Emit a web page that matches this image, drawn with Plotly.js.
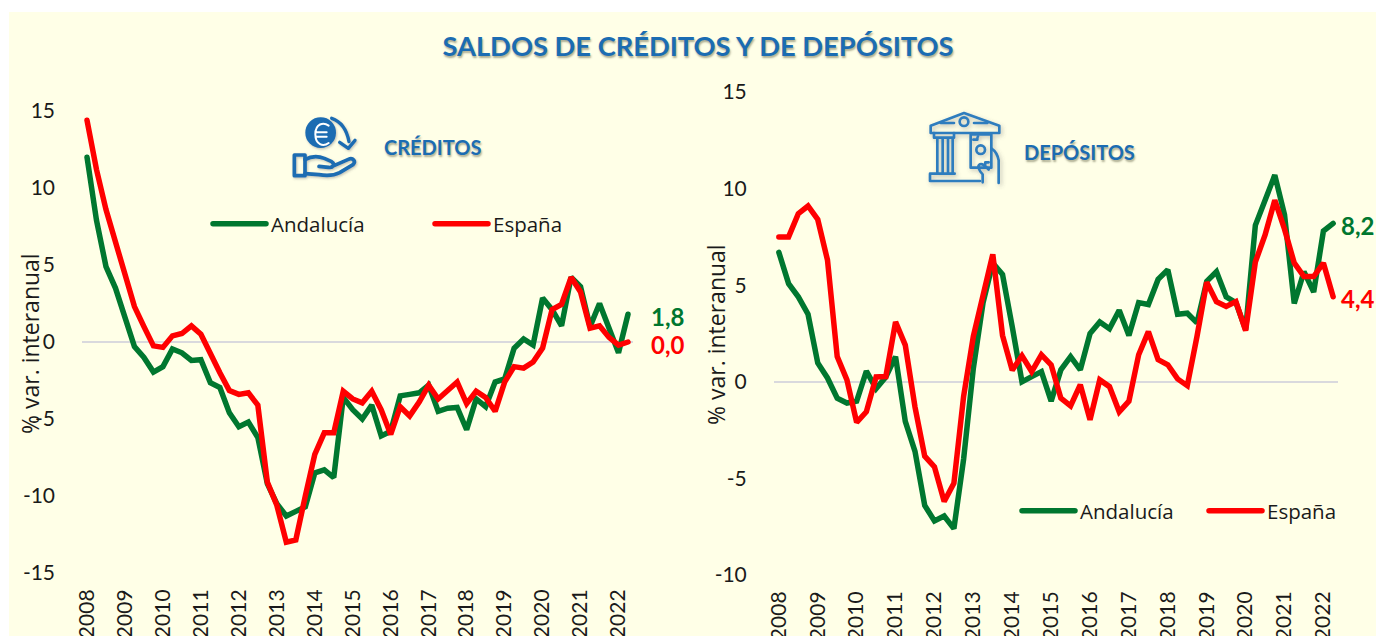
<!DOCTYPE html>
<html><head><meta charset="utf-8">
<script src="https://cdn.plot.ly/plotly-3.0.1.min.js"></script>
<style>
html,body{margin:0;padding:0;background:#fff;overflow:hidden}
#chart{width:1376px;height:636px}
.scatterlayer .js-line,.legendlines path{stroke-linecap:round}
</style></head><body><div id="chart"></div>
<script>
const quarters = Array.from({length:58},(_,i)=>i);
const yearTicks = [0,4,8,12,16,20,24,28,32,36,40,44,48,52,56];
const yearLabels = ['2008','2009','2010','2011','2012','2013','2014','2015','2016','2017','2018','2019','2020','2021','2022'];

const creditosAndalucia = [12.0,7.9,4.9,3.5,1.6,-0.3,-1.0,-1.95,-1.6,-0.45,-0.7,-1.2,-1.15,-2.65,-2.95,-4.6,-5.5,-5.2,-6.2,-9.2,-10.5,-11.3,-11.0,-10.7,-8.5,-8.3,-8.8,-3.6,-4.4,-5.0,-4.1,-6.1,-5.8,-3.5,-3.4,-3.3,-2.8,-4.5,-4.3,-4.25,-5.7,-3.7,-4.2,-2.6,-2.4,-0.4,0.2,-0.2,2.85,2.1,1.05,4.2,3.6,1.0,2.5,1.0,-0.7,1.8];
const creditosEspana = [14.4,11.2,8.6,6.5,4.2,2.3,1.0,-0.25,-0.35,0.4,0.55,1.05,0.5,-0.85,-2.0,-3.15,-3.4,-3.3,-4.1,-9.1,-10.6,-13.0,-12.85,-10.0,-7.3,-5.9,-5.9,-3.2,-3.7,-3.95,-3.2,-4.4,-6.0,-4.2,-4.8,-3.9,-2.8,-3.7,-3.1,-2.6,-4.0,-3.2,-3.6,-4.5,-2.6,-1.6,-1.7,-1.3,-0.4,2.1,2.45,4.2,3.25,0.9,1.05,0.3,-0.2,0.0];
const depositosAndalucia = [6.7,5.08,4.4,3.5,0.97,0.2,-0.85,-1.1,-1.0,0.55,-0.35,0.25,1.3,-2.05,-3.6,-6.4,-7.2,-6.95,-7.6,-4.0,0.7,4.1,6.15,5.55,2.85,0.0,0.27,0.53,-1.0,0.62,1.3,0.62,2.5,3.1,2.75,3.7,2.4,4.1,4.0,5.3,5.8,3.5,3.55,3.05,5.2,5.7,4.4,4.1,2.7,8.1,9.4,10.7,8.65,4.05,5.7,4.65,7.8,8.2];
const depositosEspana = [7.5,7.5,8.7,9.1,8.4,6.3,1.3,0.1,-2.1,-1.55,0.25,0.27,3.1,1.9,-1.3,-3.85,-4.4,-6.2,-5.25,-0.75,2.35,4.4,6.6,2.4,0.6,1.35,0.53,1.4,0.88,-0.85,-1.25,-0.15,-1.97,0.1,-0.25,-1.55,-1.0,1.4,2.6,1.15,0.88,0.15,-0.2,2.35,5.15,4.15,3.9,4.15,2.65,6.2,7.6,9.4,7.9,6.15,5.45,5.45,6.15,4.4];

const GREEN='#00772F', RED='#FF0000', BLUE='#1B6CB2', INK='#1a1a1a';
const W=1376,H=636;
const px=(a,b)=>[a/W,b/W], py=(top,bot)=>[1-bot/H,1-top/H];
const tickFont={family:'Lato, sans-serif',size:21,color:INK};
const labelFont={family:'"Open Sans", sans-serif',size:20.5,color:INK};
const SHADOW='1px 2px 2px rgba(70,70,40,.45)';

const iconCred=`<svg xmlns="http://www.w3.org/2000/svg" width="240" height="255" viewBox="0 0 240 255">
<defs><filter id="s" x="-20%" y="-20%" width="140%" height="140%"><feDropShadow dx="3" dy="4" stdDeviation="3" flood-color="#555" flood-opacity=".35"/></filter></defs>
<g filter="url(#s)" fill="none" stroke="#1B6CB2" stroke-width="11" stroke-linejoin="round" stroke-linecap="round">
<circle cx="107" cy="83" r="46" fill="#1B6CB2" stroke="none"/>
<path d="M125 82h-30M125 95h-30M131 62c-16-12-40-6-40 26s24 38 40 26" stroke="#fff" stroke-width="6"/>
<path d="M140 40c30 10 46 38 52 70" stroke-width="10"/><path d="M210 106l-20 24-26-18" stroke-width="10"/>
<path d="M28 150h32v62H28z"/>
<path d="M60 164c20-12 38-12 58-4l22 10c12 8 4 20-10 17l-28-3m38 1l50-22c14-6 24 6 14 16l-40 24c-20 10-40 10-62 6l-42-3"/>
</g></svg>`;
const iconDep=`<svg xmlns="http://www.w3.org/2000/svg" width="270" height="255" viewBox="0 0 270 255">
<defs><filter id="s" x="-20%" y="-20%" width="140%" height="140%"><feDropShadow dx="5" dy="6" stdDeviation="6" flood-color="#555" flood-opacity=".35"/></filter></defs>
<g filter="url(#s)" fill="none" stroke="#2E7DBE" stroke-width="8" stroke-linejoin="round" stroke-linecap="round">
<path d="M32 62L132 24l106 38v22H32z"/><circle cx="132" cy="50" r="13"/><path d="M62 54h40M162 54h40"/>
<path d="M42 84v14h60V84M52 98v108M68 98v108M84 98v108M98 98v108"/>
<path d="M42 206h62M30 228v-22h74M30 228h150"/>
<path d="M152 88h62v100h-62z"/><circle cx="182" cy="134" r="13"/><path d="M160 104h12c0-6 0-8 2-10M206 172h-10c0 6 0 8-2 12"/>
<path d="M214 130c12 8 20 24 22 36l0 68M188 232v-24c-10-10-18-26-8-30s18 8 26 16"/>
</g></svg>`;
const uri=s=>'data:image/svg+xml;utf8,'+encodeURIComponent(s);

const mk=(y,name,color,xa,ya,leg)=>({x:quarters,y,name,type:'scatter',mode:'lines',xaxis:xa,yaxis:ya,legend:leg,
  line:{color,width:5.5,shape:'linear'},hoverinfo:'skip'});
const data=[
  mk(creditosAndalucia,'Andalucía',GREEN,'x','y','legend'),
  mk(creditosEspana,'España',RED,'x','y','legend'),
  mk(depositosAndalucia,'Andalucía',GREEN,'x2','y2','legend2'),
  mk(depositosEspana,'España',RED,'x2','y2','legend2')
];
const xBase={range:[-0.5,57.5],tickmode:'array',tickvals:yearTicks,ticktext:yearLabels,tickangle:-90,tickfont:tickFont,
  showgrid:false,zeroline:false,showline:false,ticks:'outside',ticklen:7,tickcolor:'rgba(0,0,0,0)',fixedrange:true,automargin:false};
const yBase={tickmode:'array',showgrid:false,zeroline:true,zerolinecolor:'#D9D9DD',zerolinewidth:2,showline:false,
  ticks:'outside',ticklen:22,tickcolor:'rgba(0,0,0,0)',tickfont:tickFont,fixedrange:true,automargin:false};
const legBase={orientation:'h',bgcolor:'rgba(0,0,0,0)',borderwidth:0,font:labelFont,itemwidth:53,entrywidthmode:'pixels',
  xanchor:'left',yanchor:'middle',itemclick:false,itemdoubleclick:false,tracegroupgap:0};
const ann=(text,x,y,xr,yr,font,extra)=>Object.assign({text,x,y,xref:xr,yref:yr,showarrow:false,xanchor:'center',yanchor:'middle',font},extra||{});
const headFont={family:'Lato, sans-serif',size:20,color:BLUE,shadow:SHADOW};
const axisTitleFont={family:'"Open Sans", sans-serif',size:23,color:INK};
const endFont=c=>({family:'Lato, sans-serif',size:24,color:c});
const layout={
  width:W,height:H,margin:{l:0,r:0,t:0,b:0,autoexpand:false},paper_bgcolor:'#fff',plot_bgcolor:'rgba(0,0,0,0)',showlegend:true,
  title:{text:'<b>SALDOS DE CRÉDITOS Y DE DEPÓSITOS</b>',x:698/W,xanchor:'center',y:1-46/H,yanchor:'middle',
    font:{family:'Lato, sans-serif',size:27.3,color:BLUE,shadow:SHADOW}},
  xaxis:Object.assign({},xBase,{domain:px(82.25,632.75),anchor:'y'}),
  yaxis:Object.assign({},yBase,{domain:py(111,573),range:[-15,15],tickvals:[-15,-10,-5,0,5,10,15],ticktext:['-15','-10','-5','0','5','10','15'],anchor:'x'}),
  xaxis2:Object.assign({},xBase,{domain:px(774,1338),anchor:'y2'}),
  yaxis2:Object.assign({},yBase,{domain:py(92,575),range:[-10,15],tickvals:[-10,-5,0,5,10,15],ticktext:['-10','-5','0','5','10','15'],anchor:'x2'}),
  legend:Object.assign({},legBase,{x:208/W,y:1-224/H,entrywidth:154}),
  legend2:Object.assign({},legBase,{x:1017/W,y:1-511/H,entrywidth:119}),
  shapes:[{type:'rect',xref:'paper',yref:'paper',x0:9/W,x1:1,y0:0,y1:1-12/H,fillcolor:'#FFFFE7',line:{width:0},layer:'below'}],
  images:[
    {source:uri(iconCred),xref:'paper',yref:'paper',x:285/W,y:1-105/H,sizex:80/W,sizey:85/H,xanchor:'left',yanchor:'top',sizing:'stretch',layer:'above'},
    {source:uri(iconDep),xref:'paper',yref:'paper',x:920/W,y:1-105/H,sizex:90/W,sizey:85/H,xanchor:'left',yanchor:'top',sizing:'stretch',layer:'above'}
  ],
  annotations:[
    ann('<b>CRÉDITOS</b>',432.5/W,1-147/H,'paper','paper',headFont),
    ann('<b>DEPÓSITOS</b>',1079/W,1-152/H,'paper','paper',headFont),
    ann('% var. interanual',30/W,1-344/H,'paper','paper',axisTitleFont,{textangle:-90}),
    ann('% var. interanual',716/W,1-335/H,'paper','paper',axisTitleFont,{textangle:-90}),
    ann('<b>1,8</b>',57,creditosAndalucia[57],'x','y',endFont(GREEN),{xanchor:'left',xshift:21,yshift:-2}),
    ann('<b>0,0</b>',57,creditosEspana[57],'x','y',endFont(RED),{xanchor:'left',xshift:21,yshift:-2}),
    ann('<b>8,2</b>',57,depositosAndalucia[57],'x2','y2',endFont(GREEN),{xanchor:'left',xshift:6,yshift:-2}),
    ann('<b>4,4</b>',57,depositosEspana[57],'x2','y2',endFont(RED),{xanchor:'left',xshift:6,yshift:-2})
  ]
};
Plotly.newPlot('chart',data,layout,{staticPlot:true,displayModeBar:false});
</script></body></html>
